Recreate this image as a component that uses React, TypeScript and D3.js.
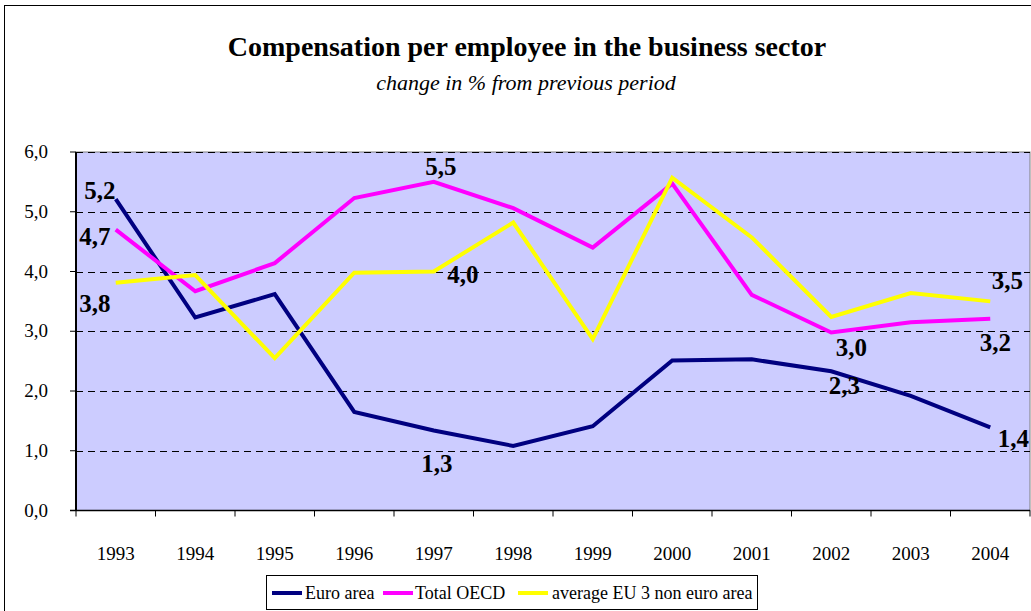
import * as d3 from "d3";

const years = ["1993", "1994", "1995", "1996", "1997", "1998", "1999", "2000", "2001", "2002", "2003", "2004"];
const euroArea = [5.21, 3.23, 3.62, 1.65, 1.34, 1.08, 1.41, 2.51, 2.53, 2.33, 1.92, 1.39];
const totalOECD = [4.7, 3.67, 4.14, 5.23, 5.5, 5.06, 4.4, 5.47, 3.61, 2.98, 3.15, 3.21];
const euThree = [3.81, 3.94, 2.55, 3.98, 4.0, 4.82, 2.87, 5.57, 4.57, 3.24, 3.64, 3.5];
const yTicks = [0, 1, 2, 3, 4, 5, 6];

const seriesList = [
  { name: "Euro area", values: euroArea, color: "#000080" },
  { name: "Total OECD", values: totalOECD, color: "#FF00FF" },
  { name: "average EU 3 non euro area", values: euThree, color: "#FFFF00" },
];

// data labels: which series / year, and a nudge from the point
const dataLabels = [
  { s: 0, i: 0, dx: -16, dy: 0 },
  { s: 1, i: 0, dx: -21, dy: 15 },
  { s: 2, i: 0, dx: -21, dy: 29 },
  { s: 1, i: 4, dx: 7, dy: -7 },
  { s: 2, i: 4, dx: 29, dy: 11 },
  { s: 0, i: 4, dx: 3, dy: 42 },
  { s: 1, i: 9, dx: 20, dy: 24 },
  { s: 0, i: 9, dx: 13, dy: 23 },
  { s: 2, i: 11, dx: 17, dy: -12 },
  { s: 1, i: 11, dx: 5, dy: 32 },
  { s: 0, i: 11, dx: 23, dy: 20 },
];

const W = 1031;
const H = 611;
const plot = { left: 76, right: 1030, top: 152, bottom: 510.5 };
const FONT = "'Liberation Serif', 'Times New Roman', serif";

const fmt = (v: number) => v.toFixed(1).replace(".", ",");

export default function App() {
  const x = d3.scaleBand<string>().domain(years).range([plot.left, plot.right]);
  const y = d3.scaleLinear().domain([0, 6]).range([plot.bottom, plot.top]);
  const cx = (i: number) => (x(years[i]) as number) + x.bandwidth() / 2;

  const line = d3
    .line<number>()
    .x((_, i) => cx(i))
    .y((d) => y(d));

  const boundaries = years.map((yr) => x(yr) as number).concat([plot.right]);

  const legendItems = [
    { x1: 272, tx: 305 },
    { x1: 383, tx: 415 },
    { x1: 518, tx: 552 },
  ];

  return (
    <svg
      width={W}
      height={H}
      style={{ position: "absolute", left: 0, top: 0, background: "#fff" }}
      fontFamily={FONT}
    >
      <rect x={0} y={0} width={W} height={H} fill="#fff" />
      <rect x={4.5} y={5.5} width={1100} height={700} fill="none" stroke="#000" strokeWidth={1} />

      <text x={527} y={56} textAnchor="middle" fontSize={28} fontWeight="bold" fill="#000">
        Compensation per employee in the business sector
      </text>
      <text x={526} y={90} textAnchor="middle" fontSize={22} fontStyle="italic" fill="#000">
        change in % from previous period
      </text>

      {/* plot area */}
      <rect
        x={plot.left}
        y={plot.top}
        width={plot.right - plot.left}
        height={plot.bottom - plot.top}
        fill="#CCCCFF"
        stroke="#808080"
        strokeWidth={1}
      />

      {yTicks
        .filter((t) => t > 0)
        .map((t) => (
          <line
            key={"g" + t}
            x1={plot.left}
            x2={plot.right}
            y1={Math.round(y(t)) + 0.5}
            y2={Math.round(y(t)) + 0.5}
            stroke="#000"
            strokeWidth={1}
            strokeDasharray="7,5"
          />
        ))}

      {/* axes */}
      <line x1={plot.left} x2={plot.left} y1={plot.top} y2={plot.bottom} stroke="#000" strokeWidth={2} />
      <line x1={plot.left - 6} x2={plot.right} y1={plot.bottom} y2={plot.bottom} stroke="#000" strokeWidth={1.5} />
      {yTicks.map((t) => (
        <g key={"yt" + t}>
          <line x1={plot.left - 6} x2={plot.left} y1={y(t)} y2={y(t)} stroke="#000" strokeWidth={1} />
          <text x={48} y={y(t) + 6} textAnchor="end" fontSize={19} fill="#000">
            {fmt(t)}
          </text>
        </g>
      ))}
      {boundaries.map((b, i) => (
        <line key={"xt" + i} x1={b} x2={b} y1={plot.bottom} y2={plot.bottom + 6} stroke="#000" strokeWidth={1} />
      ))}
      {years.map((yr, i) => (
        <text key={yr} x={cx(i)} y={560} textAnchor="middle" fontSize={19} fill="#000">
          {yr}
        </text>
      ))}

      {/* series */}
      {seriesList.map((s) => (
        <path
          key={s.name}
          d={line(s.values) || ""}
          fill="none"
          stroke={s.color}
          strokeWidth={4}
          strokeLinejoin="miter"
        />
      ))}

      {dataLabels.map((l, k) => {
        const v = seriesList[l.s].values[l.i];
        return (
          <text
            key={"dl" + k}
            x={cx(l.i) + l.dx}
            y={y(v) + l.dy}
            textAnchor="middle"
            fontSize={25}
            fontWeight="bold"
            fill="#000"
          >
            {fmt(v)}
          </text>
        );
      })}

      {/* legend */}
      <rect x={266.5} y={575.5} width={491} height={34} fill="#fff" stroke="#000" strokeWidth={1} />
      {seriesList.map((s, i) => (
        <g key={"lg" + i}>
          <line
            x1={legendItems[i].x1}
            x2={legendItems[i].x1 + 30}
            y1={593}
            y2={593}
            stroke={s.color}
            strokeWidth={4}
          />
          <text x={legendItems[i].tx} y={599} fontSize={18} fill="#000">
            {s.name}
          </text>
        </g>
      ))}
    </svg>
  );
}
